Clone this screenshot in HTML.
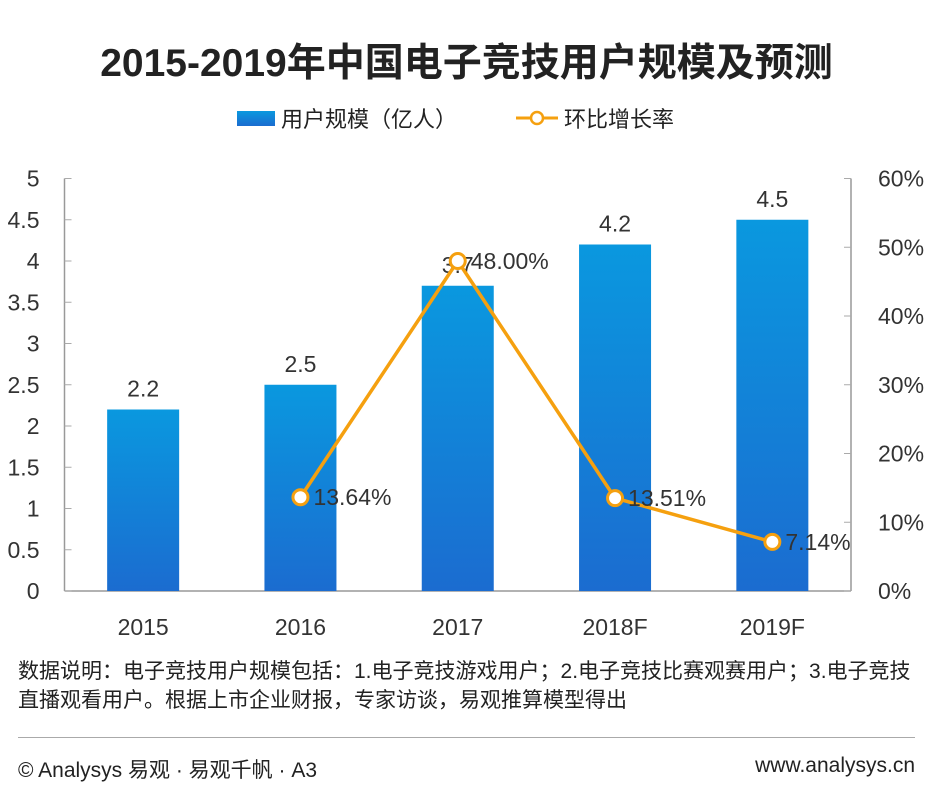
<!DOCTYPE html>
<html><head><meta charset="utf-8"><style>
body{margin:0;width:933px;height:796px;background:#fff;font-family:"Liberation Sans","Noto Sans CJK SC",sans-serif;overflow:hidden;position:relative}
.t{position:absolute;color:#222}
</style></head><body>
<div class="t" style="left:0;width:933px;top:32px;text-align:center;font-size:39px;font-weight:bold;color:#222">2015-2019年中国电子竞技用户规模及预测</div>
<svg width="933" height="796" style="position:absolute;left:0;top:0" id="c">
<defs><linearGradient id="g" x1="0" y1="0" x2="0" y2="1"><stop offset="0" stop-color="#0a98df"/><stop offset="1" stop-color="#1b6cd0"/></linearGradient></defs>
<g>
<rect x="237" y="111" width="38" height="15" fill="url(#g)"/>
<text x="281" y="127" font-size="22" fill="#222">用户规模（亿人）</text>
<line x1="516" y1="118" x2="558" y2="118" stroke="#f5a00f" stroke-width="3"/>
<circle cx="537" cy="118" r="6" fill="#fff" stroke="#f5a00f" stroke-width="2.5"/>
<text x="564" y="127" font-size="22" fill="#222">环比增长率</text>
</g>
<g id="plot"></g>
</svg>
<div class="t" style="left:18px;top:657px;font-size:21px;line-height:29px;width:915px;white-space:nowrap">数据说明：电子竞技用户规模包括：1.电子竞技游戏用户；2.电子竞技比赛观赛用户；3.电子竞技<br>直播观看用户。根据上市企业财报，专家访谈，易观推算模型得出</div>
<div style="position:absolute;left:18px;top:737px;width:897px;border-top:1px solid #aaa"></div>
<div class="t" style="left:18px;top:754px;font-size:21px">© Analysys 易观 · 易观千帆 · A3</div>
<div class="t" style="right:18px;top:754px;font-size:21px">www.analysys.cn</div>
<script>
const categories=["2015","2016","2017","2018F","2019F"];
const users=[2.2,2.5,3.7,4.2,4.5];
const userLabels=["2.2","2.5","3.7","4.2","4.5"];
const growth=[null,13.64,48.00,13.51,7.14];
const growthLabels=["","13.64%","48.00%","13.51%","7.14%"];
const leftTicks=[0,0.5,1,1.5,2,2.5,3,3.5,4,4.5,5];
const rightTicks=[0,10,20,30,40,50,60];
const L=64.5,R=851,T=178.5,B=591;
const yL=v=>B-(v/5)*(B-T), yR=v=>B-(v/60)*(B-T);
const bw=(R-L)/categories.length, xC=i=>L+bw*(i+0.5);
const NS="http://www.w3.org/2000/svg", g=document.getElementById('plot');
function mk(t,a,txt){const e=document.createElementNS(NS,t);for(const k in a)e.setAttribute(k,a[k]);if(txt!=null)e.textContent=txt;g.appendChild(e);return e;}
let e;
e=mk('line',{x1:L,y1:T,x2:L,y2:B,stroke:'#999','stroke-width':1.5});


e=mk('line',{x1:R,y1:T,x2:R,y2:B,stroke:'#999','stroke-width':1.5});


e=mk('line',{x1:L,y1:B,x2:R,y2:B,stroke:'#999','stroke-width':1.5});


leftTicks.forEach(v=>{mk('line',{x1:L,y1:yL(v),x2:L+7,y2:yL(v),stroke:'#aaa'});
e=mk('text',{x:L-25,y:yL(v)+8,'font-size':23,fill:'#333','text-anchor':'end'},String(v));

});
rightTicks.forEach(v=>{mk('line',{x1:R-7,y1:yR(v),x2:R,y2:yR(v),stroke:'#aaa'});
e=mk('text',{x:R+27,y:yR(v)+8,'font-size':23,fill:'#333'},v+'%');

});
categories.forEach((c,i)=>{
e=mk('rect',{x:xC(i)-36,y:yL(users[i]),width:72,height:B-yL(users[i]),fill:'url(#g)'});


e=mk('text',{x:xC(i),y:yL(users[i])-13,'font-size':23,fill:'#333','text-anchor':'middle'},userLabels[i]);


e=mk('text',{x:xC(i),y:B+44,'font-size':23,fill:'#333','text-anchor':'middle'},c);


});
const pts=[];growth.forEach((v,i)=>{if(v!=null)pts.push([xC(i),yR(v)]);});
e=mk('polyline',{points:pts.map(p=>p.join(',')).join(' '),fill:'none',stroke:'#f5a00f','stroke-width':3.5,'stroke-linejoin':'round'});


growth.forEach((v,i)=>{if(v==null)return;
e=mk('circle',{cx:xC(i),cy:yR(v),r:7.5,fill:'#fff',stroke:'#f5a00f','stroke-width':3});


e=mk('text',{x:xC(i)+13,y:yR(v)+8,'font-size':23,fill:'#333'},growthLabels[i]);


});
</script>
</body></html>
